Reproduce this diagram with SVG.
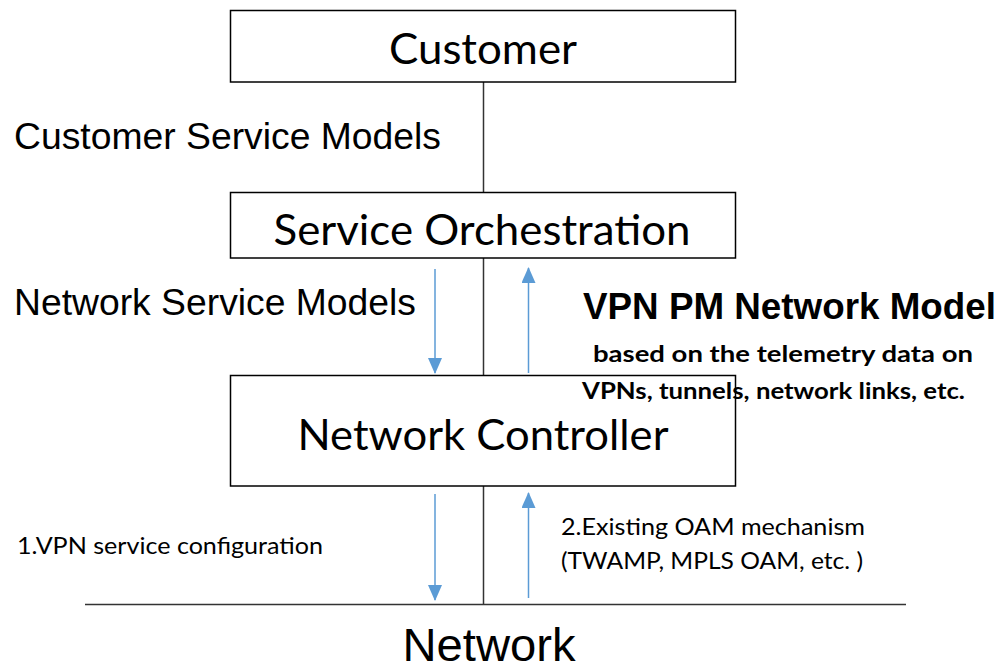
<svg xmlns="http://www.w3.org/2000/svg" width="1004" height="666" viewBox="0 0 1004 666">
<style>
.box{fill:#fff;stroke:#000;stroke-width:1.5}
.line{stroke:#333;stroke-width:1.5;fill:none}
.arr{stroke:#5B9BD5;stroke-width:1.5;fill:none}
.boxt{font-family:Lato,"Noto Sans",sans-serif;font-size:42px;fill:#000;text-anchor:middle}
.ar{font-family:"Liberation Sans",Arial,sans-serif;fill:#000}
.sm{font-family:Lato,"Noto Sans",sans-serif;font-size:23px;fill:#000}
</style>
<defs>
<marker id="ah" viewBox="0 0 16 14" refX="15" refY="7" markerWidth="16" markerHeight="14" markerUnits="userSpaceOnUse" orient="auto">
<path d="M0,0 L16,7 L0,14 Z" fill="#5B9BD5"/>
</marker>
</defs>
<rect width="1004" height="666" fill="#fff"/>
<g id="connectors">
<line class="line" x1="483.5" y1="82" x2="483.5" y2="192"/>
<line class="line" x1="483.5" y1="258" x2="483.5" y2="375"/>
<line class="line" x1="483.5" y1="486" x2="483.5" y2="604"/>
<line class="line" x1="85" y1="604.5" x2="906" y2="604.5"/>
<line class="arr" x1="435" y1="269" x2="435" y2="373" marker-end="url(#ah)"/>
<line class="arr" x1="528.5" y1="373" x2="528.5" y2="268" marker-end="url(#ah)"/>
<line class="arr" x1="435" y1="494" x2="435" y2="600" marker-end="url(#ah)"/>
<line class="arr" x1="528.5" y1="598" x2="528.5" y2="493" marker-end="url(#ah)"/>
</g>
<g id="customer">
<rect class="box" x="230.5" y="10.5" width="505" height="71.5"/>
<text class="boxt" x="483" y="64" textLength="188" lengthAdjust="spacingAndGlyphs">Customer</text>
</g>
<g id="service-orchestration">
<rect class="box" x="230.5" y="192.5" width="505" height="65.5"/>
<text class="boxt" x="482" y="245" textLength="417" lengthAdjust="spacingAndGlyphs">Service Orchestration</text>
</g>
<g id="network-controller">
<rect class="box" x="230.5" y="375.5" width="505" height="110.5"/>
<text class="boxt" x="483" y="450" textLength="371" lengthAdjust="spacingAndGlyphs">Network Controller</text>
</g>
<g id="labels">
<text class="ar" x="14" y="149" font-size="37" textLength="427" lengthAdjust="spacingAndGlyphs">Customer Service Models</text>
<text class="ar" x="14" y="315" font-size="37" textLength="402" lengthAdjust="spacingAndGlyphs">Network Service Models</text>
<text class="ar" x="583" y="319" font-size="37" font-weight="bold" textLength="413" lengthAdjust="spacingAndGlyphs">VPN PM Network Model</text>
<text class="sm" x="593" y="362" font-weight="bold" textLength="380" lengthAdjust="spacingAndGlyphs">based on the telemetry data on</text>
<text class="sm" x="582" y="399" font-weight="bold" textLength="383" lengthAdjust="spacingAndGlyphs">VPNs, tunnels, network links, etc.</text>
<text class="sm" x="17" y="554" textLength="306" lengthAdjust="spacingAndGlyphs">1.VPN service configuration</text>
<text class="sm" x="561" y="535" textLength="304" lengthAdjust="spacingAndGlyphs">2.Existing OAM mechanism</text>
<text class="sm" x="561" y="569" textLength="302" lengthAdjust="spacingAndGlyphs">(TWAMP, MPLS OAM, etc. )</text>
<text class="ar" x="489" y="661" font-size="47" text-anchor="middle" textLength="173" lengthAdjust="spacingAndGlyphs">Network</text>
</g>
</svg>
